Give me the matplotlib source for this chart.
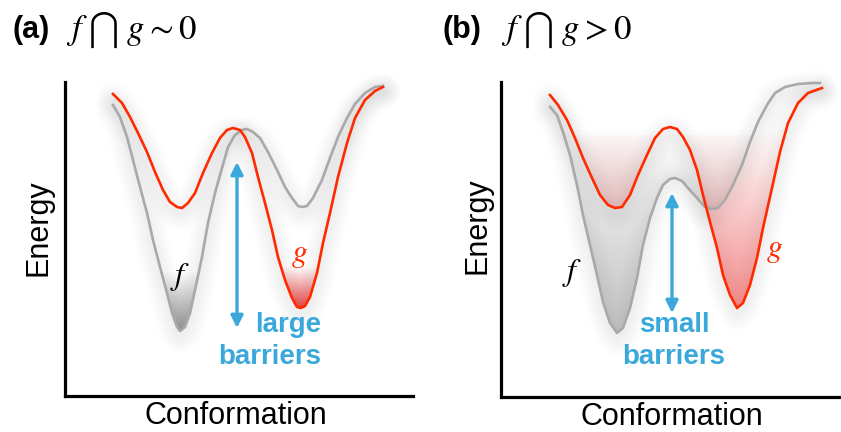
import numpy as np
import matplotlib.pyplot as plt
from matplotlib.path import Path

plt.rcParams['mathtext.fontset'] = 'stix'
plt.rcParams['font.family'] = ['Liberation Sans', 'DejaVu Sans']

# panel (a): energy landscapes, conformation vs energy (arbitrary units)
xa_f = [48, 55, 62, 68, 75, 82, 88, 95, 102, 107, 112, 115, 120, 125, 130, 137, 143, 150, 157, 163,
        170, 177, 182, 188, 195, 203, 212, 220, 227, 233, 237, 242, 248, 257, 265, 273, 282, 290, 300, 310, 318]
ya_f = [291, 279, 259, 236, 209, 183, 156, 129, 103, 83, 69, 65, 69, 83, 106, 139, 173, 203, 228, 249,
        261, 266, 267, 264, 258, 244, 226, 209, 198, 190, 189, 190, 198, 216, 238, 259, 278, 292, 303, 309, 310]
xa_g = [48, 57, 65, 73, 82, 90, 98, 105, 112, 117, 123, 130, 138, 147, 155, 162, 168, 175, 180, 187,
        193, 200, 207, 213, 220, 227, 232, 236, 240, 245, 252, 258, 265, 273, 282, 290, 300, 310, 318]
ya_g = [302, 293, 279, 263, 244, 224, 206, 194, 189, 188, 193, 203, 223, 243, 258, 266, 268, 266, 259, 243,
        219, 193, 166, 139, 116, 98, 89, 88, 90, 99, 123, 153, 183, 219, 253, 278, 296, 305, 309]

# panel (b)
xb_f = [49, 56, 62, 69, 76, 82, 89, 96, 102, 109, 116, 122, 129, 136, 142, 149, 156, 162, 169, 174,
        181, 187, 196, 204, 211, 217, 224, 232, 241, 249, 257, 266, 274, 284, 297, 311, 319]
yb_f = [290, 282, 265, 242, 212, 182, 152, 122, 95, 74, 64, 69, 89, 119, 152, 179, 199, 212, 218, 219,
        216, 209, 199, 190, 188, 189, 197, 212, 232, 255, 275, 292, 304, 310, 313, 314, 314]
xb_g = [49, 57, 66, 74, 82, 91, 99, 107, 114, 121, 129, 137, 146, 154, 162, 169, 176, 182, 189, 196,
        202, 209, 216, 222, 229, 236, 242, 249, 256, 262, 271, 279, 287, 297, 307, 321]
yb_g = [302, 292, 277, 259, 239, 219, 202, 192, 189, 190, 202, 222, 242, 259, 268, 270, 268, 260, 247, 227,
        202, 175, 149, 122, 102, 89, 94, 112, 139, 169, 209, 245, 274, 294, 304, 309]

# barrier arrows (x, low, high)
arrow_a = (172, 68, 234)
arrow_b = (171, 84, 204)

GRAY = '#a9a9a9'
RED = '#ff2a00'
BLUE = '#3aa8da'


def gradient(ax, x, y, level, rgb, extent, a_bot, a_top):
    x = np.asarray(x, float)
    y = np.asarray(y, float)
    coll = ax.fill_between(x, y, level, where=y < level, interpolate=True,
                           color='none', lw=0)
    clip = Path.make_compound_path(*coll.get_paths())
    coll.remove()
    n = 64
    img = np.zeros((n, 1, 4))
    img[:, 0, :3] = rgb
    img[:, 0, 3] = np.linspace(a_bot, a_top, n)
    im = ax.imshow(img, extent=extent, origin='lower', aspect='auto',
                   interpolation='bicubic', zorder=1)
    im.set_clip_path(clip, ax.transData)


def shadow(ax, x, y):
    # soft drop shadow under a curve
    y = np.asarray(y, float) - 5
    for lw in range(4, 26, 3):
        ax.plot(x, y, color='k', alpha=0.007, lw=lw, solid_capstyle='round',
                solid_joinstyle='round', zorder=0.5, clip_on=False)


def setup(ax, w, h):
    ax.set_xlim(0, w)
    ax.set_ylim(0, h)
    ax.set_xticks([])
    ax.set_yticks([])
    for s in ['top', 'right']:
        ax.spines[s].set_visible(False)
    for s in ['left', 'bottom']:
        ax.spines[s].set_linewidth(2.3)
    ax.patch.set_alpha(0)


fig = plt.figure(figsize=(8.41, 4.32), dpi=100)

# ---------- (a)
ax = fig.add_axes([65/841, 36/432, 348/841, 314/432])
setup(ax, 348, 314)
shadow(ax, xa_f, ya_f)
shadow(ax, xa_g, ya_g)
gradient(ax, xa_f, ya_f, 250, (0.45, 0.45, 0.45), [80, 150, 60, 125], 0.85, 0.0)
gradient(ax, xa_g, ya_g, 250, (0.88, 0.1, 0.1), [200, 270, 86, 130], 0.85, 0.0)
ax.plot(xa_f, ya_f, color=GRAY, lw=1.9, solid_joinstyle='round', zorder=3, clip_on=False)
ax.plot(xa_g, ya_g, color=RED, lw=1.9, solid_joinstyle='round', zorder=4, clip_on=False)
ax.annotate('', xy=(arrow_a[0], arrow_a[1]), xytext=(arrow_a[0], arrow_a[2]),
            arrowprops=dict(arrowstyle='<|-|>', color=BLUE, lw=2.4, mutation_scale=18,
                            shrinkA=0, shrinkB=0), zorder=5)
ax.text(256, 55, 'large\nbarriers', color=BLUE, fontsize=20, fontweight='bold',
        ha='right', va='center', multialignment='right', linespacing=1.25)
ax.text(115, 119, r'$f$', fontsize=23, color='k', ha='center', va='center')
ax.text(235, 141, r'$g$', fontsize=23, color=RED, ha='center', va='center')
ax.text(-0.075, 0.535, 'Energy', transform=ax.transAxes, rotation=90,
        fontsize=22, ha='center', va='center')
ax.text(0.491, -0.064, 'Conformation', transform=ax.transAxes,
        fontsize=22, ha='center', va='center')

# ---------- (b)
bx = fig.add_axes([501/841, 35/432, 340/841, 315/432])
setup(bx, 340, 315)
shadow(bx, xb_f, yb_f)
shadow(bx, xb_g, yb_g)
gradient(bx, xb_g, yb_g, 269, (0.93, 0.35, 0.35), [40, 330, 85, 269], 0.72, 0.0)
gradient(bx, xb_f, yb_f, 262, (0.45, 0.45, 0.45), [40, 330, 60, 262], 0.45, 0.03)
bx.plot(xb_f, yb_f, color=GRAY, lw=1.9, solid_joinstyle='round', zorder=3, clip_on=False)
bx.plot(xb_g, yb_g, color=RED, lw=1.9, solid_joinstyle='round', zorder=4, clip_on=False)
bx.annotate('', xy=(arrow_b[0], arrow_b[1]), xytext=(arrow_b[0], arrow_b[2]),
            arrowprops=dict(arrowstyle='<|-|>', color=BLUE, lw=2.4, mutation_scale=18,
                            shrinkA=0, shrinkB=0), zorder=5)
bx.text(173, 56, 'small\nbarriers', color=BLUE, fontsize=20, fontweight='bold',
        ha='center', va='center', multialignment='center', linespacing=1.25)
bx.text(71, 124, r'$f$', fontsize=23, color='k', ha='center', va='center')
bx.text(274, 147, r'$g$', fontsize=23, color=RED, ha='center', va='center')
bx.text(-0.07, 0.545, 'Energy', transform=bx.transAxes, rotation=90,
        fontsize=22, ha='center', va='center')
bx.text(0.503, -0.064, 'Conformation', transform=bx.transAxes,
        fontsize=22, ha='center', va='center')

# ---------- titles
fig.text(12/841, 1 - 30/432, '(a)', fontsize=22, fontweight='bold', va='center')
fig.text(66/841, 1 - 30/432, r'$f\;\bigcap\;g\sim0$', fontsize=25, va='center')
fig.text(443/841, 1 - 30/432, '(b)', fontsize=22, fontweight='bold', va='center')
fig.text(501/841, 1 - 30/432, r'$f\;\bigcap\;g>0$', fontsize=25, va='center')

fig.savefig('out.png', dpi=100)
